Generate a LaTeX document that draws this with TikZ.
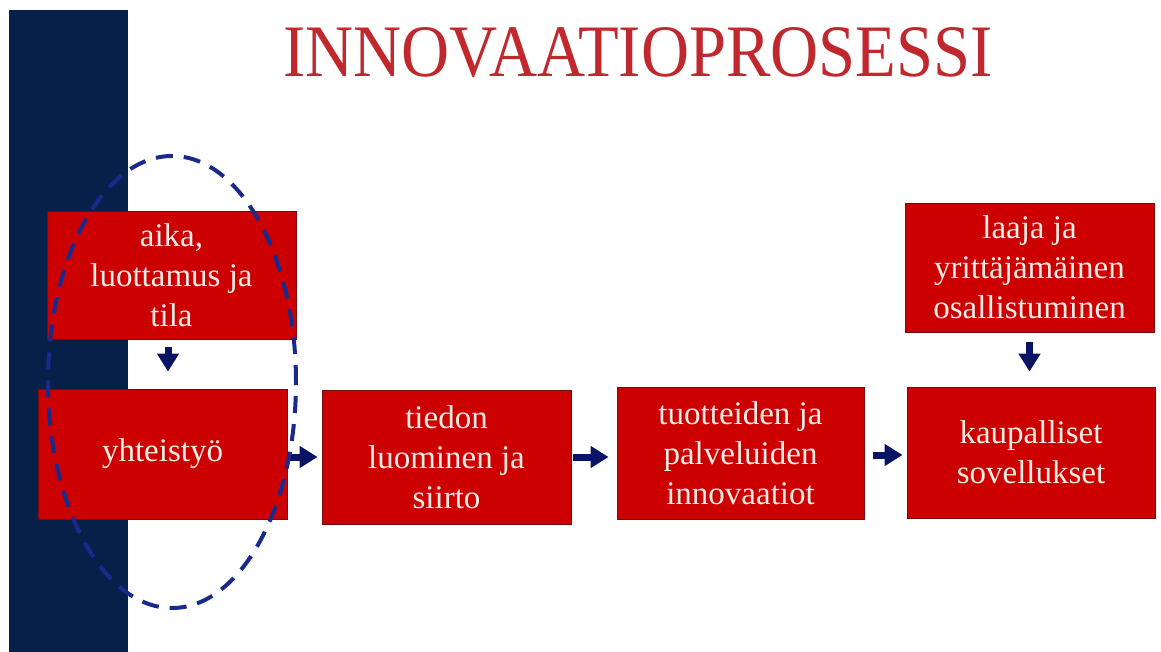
\documentclass[tikz,border=0pt]{standalone}
\usepackage{fontspec}
\setmainfont{Liberation Serif}
\usetikzlibrary{arrows.meta}
\definecolor{barnavy}{HTML}{07204A}
\definecolor{boxred}{HTML}{CC0000}
\definecolor{boxedge}{HTML}{7A0A0A}
\definecolor{titlered}{HTML}{C0282D}
\definecolor{arrownavy}{HTML}{0A1465}
\definecolor{ringblue}{HTML}{1A2A8C}
\definecolor{boxtext}{HTML}{FBEDE6}
\tikzset{
  stepbox/.style={draw=boxedge, line width=0.8pt, fill=boxred, text=boxtext,
    minimum width=249pt, align=center,
    font=\fontsize{33}{40}\selectfont, inner sep=0pt},
  flow/.style={draw=arrownavy, line width=7pt,
    -{Triangle[width=21pt,length=18pt]}, arrownavy}
}
\begin{document}
\begin{tikzpicture}[x=1pt,y=-1pt]
  \useasboundingbox (0,0) rectangle (1161,652);
  \fill[white] (0,0) rectangle (1161,652);
  % navy side band
  \fill[barnavy] (9,10) rectangle (128,652);
  % title
  \node[anchor=base, text=titlered, inner sep=0pt] (title) at (638,77)
    {\scalebox{0.9}[1]{\fontsize{74}{80}\selectfont INNOVAATIOPROSESSI}};
  % process boxes
  \node[stepbox, minimum height=128pt] (aika) at (171.5,275)
    {aika,\\luottamus ja\\tila};
  \node[stepbox, minimum height=130pt] (yht) at (162.5,454) {yhteistyö};
  \node[stepbox, minimum height=134pt] (tiedon) at (446.5,457)
    {tiedon\\luominen ja\\siirto};
  \node[stepbox, minimum width=247pt, minimum height=132pt] (tuot) at (740.5,453)
    {tuotteiden ja\\palveluiden\\innovaatiot};
  \node[stepbox, minimum width=248pt, minimum height=131pt] (kaup) at (1031,452.5)
    {kaupalliset\\sovellukset};
  \node[stepbox, minimum height=129pt] (laaja) at (1029.5,267.5)
    {laaja ja\\yrittäjämäinen\\osallistuminen};
  % connectors
  \draw[flow, shorten <=8pt, shorten >=17pt]
    ([xshift=-3.5pt]aika.south) -- ([xshift=-3.5pt]aika.south |- yht.north);
  \draw[flow, shorten <=3pt, shorten >=4pt]
    (yht.east |- 0,457) -- (tiedon.west |- 0,457);
  \draw[flow, shorten <=2pt, shorten >=8pt]
    (tiedon.east |- 0,457) -- (tuot.west |- 0,457);
  \draw[flow, shorten <=9pt, shorten >=4pt]
    (tuot.east |- 0,455) -- (kaup.west |- 0,455);
  \draw[flow, shorten <=10pt, shorten >=15pt]
    (laaja.south) -- (laaja.south |- kaup.north);
  % dashed ring around the starting steps
  \draw[ringblue, line width=4pt, dash pattern=on 17pt off 11pt]
    (172,382) ellipse [x radius=124pt, y radius=226pt];
\end{tikzpicture}
\end{document}
